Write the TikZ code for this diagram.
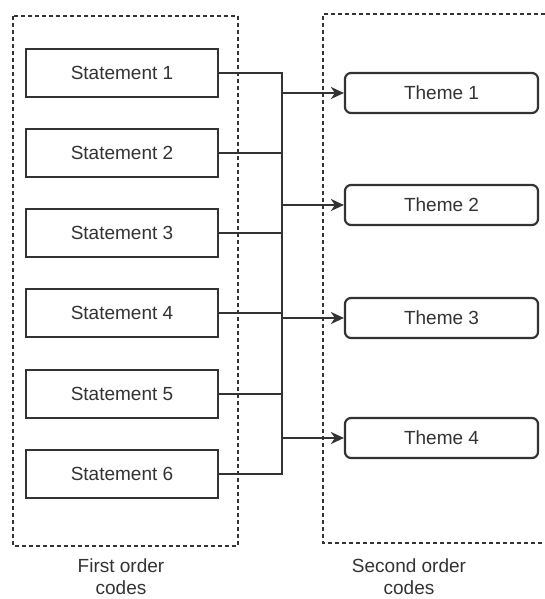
\documentclass[tikz,border=0pt]{standalone}
\usepackage{fontspec}
\setmainfont{Liberation Sans}
\usetikzlibrary{arrows.meta}
\definecolor{ink}{HTML}{333333}
\tikzset{
  stmt/.style={draw=ink, line width=2.2pt, minimum width=192pt, minimum height=48pt, inner sep=0pt, font=\fontsize{19}{22}\selectfont, text=ink},
  theme/.style={draw=ink, line width=2.2pt, rounded corners=6pt, minimum width=193pt, minimum height=40pt, inner sep=0pt, font=\fontsize{19}{22}\selectfont, text=ink},
  grp/.style={draw=ink, line width=1.8pt, dash pattern=on 4pt off 3pt},
  conn/.style={draw=ink, line width=2.2pt},
  arr/.style={conn, -{Stealth[length=13pt, width=12pt, inset=4pt]}},
  lbl/.style={align=center, font=\fontsize{19}{22}\selectfont, text=ink, inner sep=0pt}
}
\begin{document}
\begin{tikzpicture}[x=1pt, y=-1pt]
\useasboundingbox[fill=white] (0,0) rectangle (545,599);
% group boxes
\draw[grp] (13,16) rectangle (238,546);
\draw[grp] (545,14) -- (323,14) -- (323,543) -- (545,543);
% statements
\node[stmt] (s1) at (122,73) {Statement 1};
\node[stmt] (s2) at (122,153) {Statement 2};
\node[stmt] (s3) at (122,233) {Statement 3};
\node[stmt] (s4) at (122,313) {Statement 4};
\node[stmt] (s5) at (122,394) {Statement 5};
\node[stmt] (s6) at (122,474) {Statement 6};
% themes
\node[theme] (t1) at (441.5,93) {Theme 1};
\node[theme] (t2) at (441.5,205) {Theme 2};
\node[theme] (t3) at (441.5,318) {Theme 3};
\node[theme] (t4) at (441.5,438) {Theme 4};
% bus
\coordinate (bt) at (282,73);
\coordinate (bb) at (282,474);
\draw[conn] (s1.east) -- (bt);
\draw[conn] (s2.east) -- (s2.east -| bt);
\draw[conn] (s3.east) -- (s3.east -| bt);
\draw[conn] (s4.east) -- (s4.east -| bt);
\draw[conn] (s5.east) -- (s5.east -| bt);
\draw[conn] (s6.east) -- (bb);
\draw[conn, line cap=rect] (bt) -- (bb);
\draw[arr] (t1.west -| bt) -- (t1.west);
\draw[arr] (t2.west -| bt) -- (t2.west);
\draw[arr] (t3.west -| bt) -- (t3.west);
\draw[arr] (t4.west -| bt) -- (t4.west);
% labels
\node[lbl] (l1) at (121,577) {First order\\codes};
\node[lbl] (l2) at (409,577) {Second order\\codes};
\end{tikzpicture}
\end{document}
